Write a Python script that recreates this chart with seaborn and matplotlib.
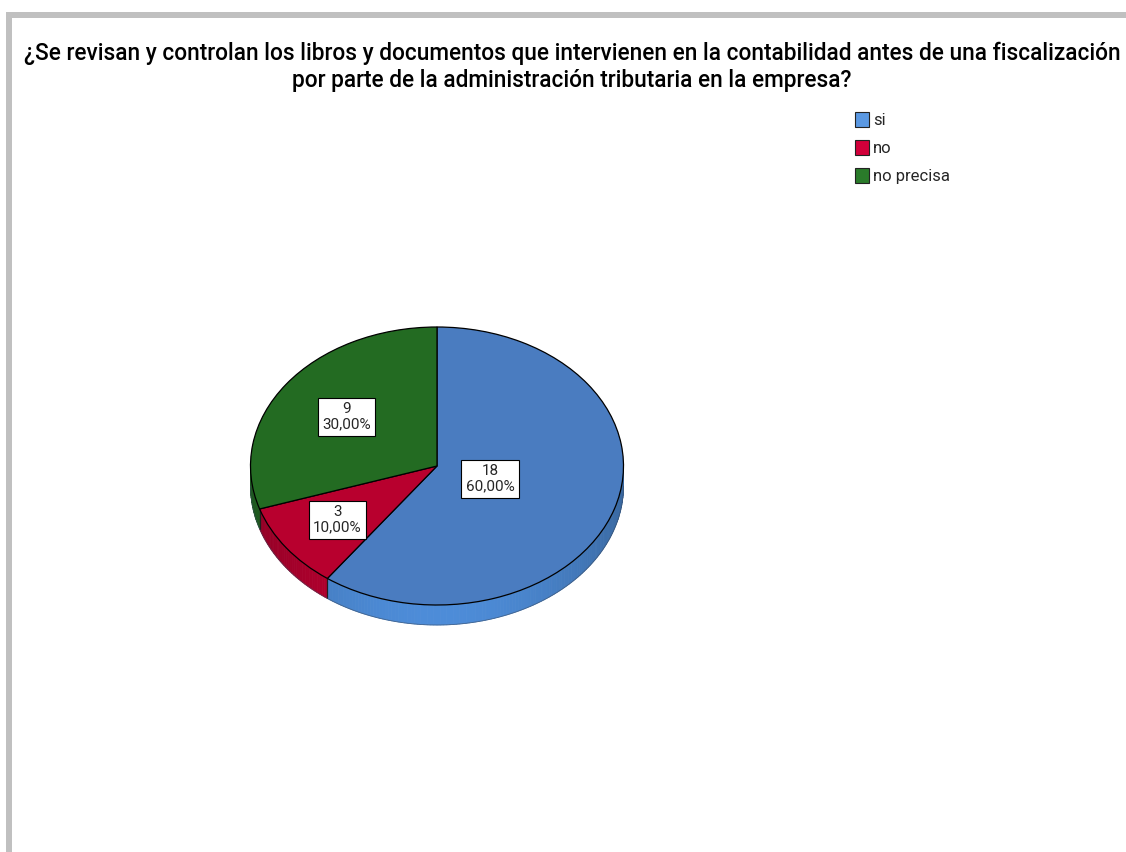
import numpy as np
import matplotlib
matplotlib.use("Agg")
import matplotlib.pyplot as plt
import matplotlib.colors as mcolors
from matplotlib.patches import Rectangle, Patch
import seaborn as sns

# data
categories = ["si", "no", "no precisa"]
counts = [18, 3, 9]
title = ("¿Se revisan y controlan los libros y documentos que intervienen en la contabilidad antes de una fiscalización\n"
         "por parte de la administración tributaria en la empresa?")

# styles
top_colors = ["#4a7cc0", "#b8002e", "#236b22"]
side_colors = ["#4d8cd8", "#bf0031", "#28752a"]
legend_colors = ["#5a98e2", "#d2003a", "#2a7b2a"]
label_dist = [0.3, 0.66, 0.6]
depth = 0.144

sns.set_theme(style="white")
plt.rcParams["font.family"] = ["Roboto", "Liberation Sans", "DejaVu Sans"]

W, H = 1126, 852
fig = plt.figure(figsize=(W / 100, H / 100), dpi=100)
fig.patch.set_facecolor("white")

# grey frame on top and left
fig.add_artist(Rectangle((6 / W, 0), 6 / W, 1 - 12 / H, transform=fig.transFigure,
                         facecolor="#c0c0c0", edgecolor="none"))
fig.add_artist(Rectangle((6 / W, 1 - 18 / H), 1 - 6 / W, 6 / H, transform=fig.transFigure,
                         facecolor="#c0c0c0", edgecolor="none"))

fig.text(572 / W, 1 - 67 / H, title, ha="center", va="center", fontsize=16.3,
         fontweight="medium", linespacing=1.25, color="black")

# pie axes: ellipse centre (437, 466) px, radii 186.5 x 139 px
cx, cy, rx, ry = 437, 466, 186.5, 139
ax = fig.add_axes([(cx - 1.25 * rx) / W, (H - cy - 1.25 * ry) / H, 2.5 * rx / W, 2.5 * ry / H])

total = sum(counts)
wedges, _ = ax.pie(counts, colors=top_colors, startangle=90, counterclock=False,
                   wedgeprops=dict(edgecolor="black", linewidth=0.9, zorder=5))
ax.set_aspect("auto")
ax.set_xlim(-1.25, 1.25)
ax.set_ylim(-1.25, 1.25)
ax.axis("off")

# side wall of the 3d pie
for w, sc in zip(wedges, side_colors):
    t = np.arange(w.theta1, w.theta2 + 0.01, 1.0)
    if t[-1] < w.theta2:
        t = np.append(t, w.theta2)
    base = np.array(mcolors.to_rgb(sc))
    for a, b in zip(t[:-1], t[1:]):
        ra, rb = np.radians(a), np.radians(b)
        if np.sin(ra) > 0.001 or np.sin(rb) > 0.001:
            continue
        m = 0.75 + 0.25 * (-np.sin((ra + rb) / 2)) ** 2
        c = np.clip(base * m, 0, 1)
        xs = [np.cos(ra), np.cos(rb), np.cos(rb), np.cos(ra)]
        ys = [np.sin(ra), np.sin(rb), np.sin(rb) - depth, np.sin(ra) - depth]
        ax.fill(xs, ys, color=c, lw=0.6, zorder=2)
    # edge between slices on the side
    for th in (w.theta1, w.theta2):
        r = np.radians(th)
        if np.sin(r) < -0.01:
            ax.plot([np.cos(r)] * 2, [np.sin(r), np.sin(r) - depth], color="#202020", lw=0.8, zorder=3)

# outline of the bottom rim
tt = np.radians(np.linspace(180, 360, 200))
ax.plot(np.cos(tt), np.sin(tt) - depth, color="#3a4a60", lw=0.6, alpha=0.6, zorder=3)

# labels
for w, n, d in zip(wedges, counts, label_dist):
    mid = np.radians((w.theta1 + w.theta2) / 2)
    pct = f"{n / total * 100:.2f}".replace(".", ",") + "%"
    ax.text(d * np.cos(mid), d * np.sin(mid), f"{n}\n{pct}", ha="center", va="center",
            fontsize=11, linespacing=1.1, zorder=10,
            bbox=dict(boxstyle="square,pad=0.3", facecolor="white", edgecolor="black", linewidth=0.8))

handles = [Patch(facecolor=c, edgecolor="#222222", linewidth=0.8, label=l)
           for c, l in zip(legend_colors, categories)]
fig.legend(handles=handles, loc="upper left", bbox_to_anchor=(855 / W, 1 - 112 / H),
           frameon=False, fontsize=12, handlelength=0.85, handleheight=1.0,
           handletextpad=0.25, labelspacing=0.7, borderaxespad=0, borderpad=0)

fig.savefig("out.png", dpi=100, facecolor="white")
